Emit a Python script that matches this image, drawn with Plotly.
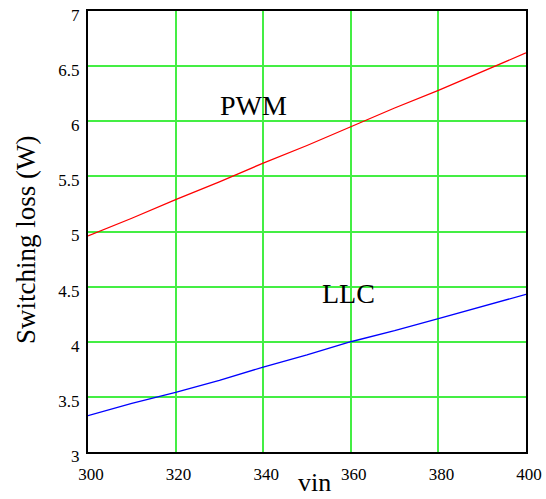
import plotly.graph_objects as go

vin = [300, 310, 320, 330, 340, 350, 360, 370, 380, 390, 400]
pwm_loss = [4.96, 5.12, 5.29, 5.45, 5.62, 5.78, 5.95, 6.12, 6.28, 6.45, 6.62]
llc_loss = [3.33, 3.44, 3.54, 3.65, 3.77, 3.88, 4.00, 4.10, 4.21, 4.32, 4.43]

x_ticks = [300, 320, 340, 360, 380, 400]
y_ticks = [3, 3.5, 4, 4.5, 5, 5.5, 6, 6.5, 7]
y_labels = ["3", "3.5", "4", "4.5", "5", "5.5", "6", "6.5", "7"]

font = "Liberation Serif"

fig = go.Figure()
fig.add_trace(go.Scatter(x=vin, y=pwm_loss, mode="lines", line=dict(color="#ff0000", width=1.3), showlegend=False))
fig.add_trace(go.Scatter(x=vin, y=llc_loss, mode="lines", line=dict(color="#0000ff", width=1.3), showlegend=False))

fig.add_annotation(x=337.7, y=6.14, text="PWM", showarrow=False, font=dict(family=font, size=28, color="black"))
fig.add_annotation(x=359.4, y=4.44, text="LLC", showarrow=False, font=dict(family=font, size=28, color="black"))
fig.add_annotation(x=(314 - 88) / 438, y=(452 - 498) / 441, xref="paper", yref="paper", text="vin",
                   showarrow=False, yanchor="bottom", borderpad=0, font=dict(family=font, size=26, color="black"))
fig.add_annotation(x=(26 - 88) / 438, y=(452 - 240) / 441, xref="paper", yref="paper",
                   text="Switching loss (W)", textangle=-90, showarrow=False,
                   xanchor="center", yanchor="middle", font=dict(family=font, size=27, color="black"))

fig.update_xaxes(range=[300, 400], tickvals=x_ticks, showgrid=True, gridcolor="#44ee44", gridwidth=1.5,
                 showline=True, linecolor="black", linewidth=2, mirror=True, zeroline=False,
                 ticks="", tickfont=dict(family=font, size=17, color="black"), ticklabelstandoff=6,
                 ticklabelshift=3, automargin=False, ticklabeloverflow="allow")
fig.update_yaxes(range=[3, 7], tickvals=y_ticks, ticktext=y_labels, showgrid=True, gridcolor="#44ee44", gridwidth=1.6,
                 showline=True, linecolor="black", linewidth=2, mirror=True, zeroline=False,
                 ticks="", tickfont=dict(family=font, size=17, color="black"), ticklabelstandoff=3,
                 ticklabelshift=4, automargin=False, ticklabeloverflow="allow")

fig.update_layout(width=546, height=499, margin=dict(l=88, r=20, t=11, b=47, autoexpand=False),
                  plot_bgcolor="white", paper_bgcolor="white")

fig.write_html("out.html")
